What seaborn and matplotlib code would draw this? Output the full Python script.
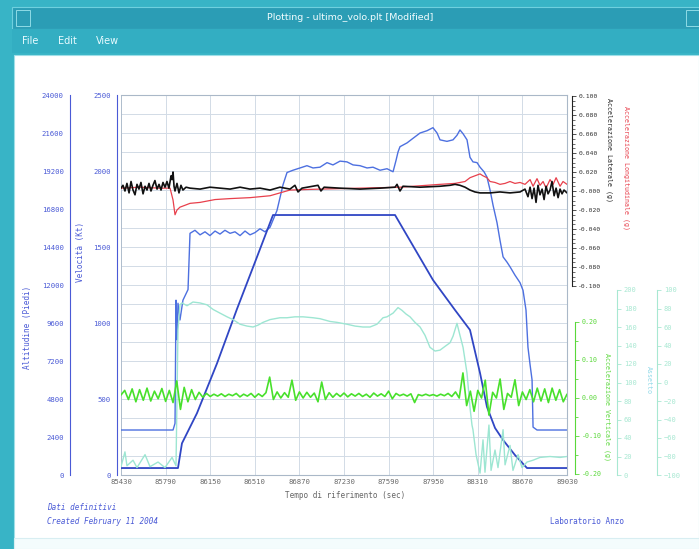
import matplotlib
matplotlib.use("Agg")
import matplotlib.pyplot as plt
from matplotlib.patches import Rectangle
from matplotlib.ticker import MultipleLocator, FormatStrFormatter
import seaborn as sns

# -------------------------------------------
# DATA
# -------------------------------------------
x_ticks = [85430, 85790, 86150, 86510, 86870, 87230, 87590, 87950, 88310, 88670, 89030]

# altitude (outer left axis, feet)
alt_t = [85430, 85890, 85922, 86043, 86205, 86366, 86512, 86657, 87642, 87948,
         88126, 88247, 88328, 88384, 88449, 88514, 88610, 88707, 89030]
alt_v = [440, 440, 2000, 3900, 7050, 10480, 13450, 16420, 16420, 12320,
         10420, 9160, 6440, 4300, 2970, 2210, 1260, 440, 440]

# speed (inner left axis)
vel_t = [85430, 85850, 85866, 85874, 85882, 85890, 85906, 85930, 85971, 85987,
         86027, 86068, 86108, 86148, 86189, 86229, 86269, 86310, 86350, 86391,
         86431, 86471, 86512, 86552, 86592, 86633, 86689, 86738, 86770, 86818,
         86875, 86931, 86980, 87036, 87093, 87141, 87198, 87254, 87303, 87359,
         87416, 87464, 87521, 87577, 87626, 87650, 87666, 87682, 87739, 87787,
         87844, 87900, 87948, 87981, 88005, 88061, 88110, 88142, 88166, 88191,
         88223, 88247, 88271, 88304, 88328, 88360, 88384, 88409, 88433, 88465,
         88489, 88514, 88546, 88570, 88610, 88651, 88675, 88699, 88715, 88732,
         88748, 88756, 88788, 89030]
vel_v = [296, 296, 340, 1150, 890, 1130, 1020, 1150, 1220, 1590,
         1610, 1580, 1600, 1575, 1605, 1585, 1610, 1590, 1600, 1575,
         1605, 1580, 1595, 1620, 1600, 1630, 1740, 1910, 1990, 2005,
         2020, 2035, 2020, 2025, 2055, 2040, 2065, 2060, 2040, 2035,
         2020, 2025, 2005, 2015, 1995, 2070, 2125, 2160, 2185, 2215,
         2250, 2265, 2285, 2250, 2205, 2195, 2205, 2235, 2270, 2245,
         2205, 2090, 2060, 2055, 2025, 1995, 1960, 1875, 1775, 1660,
         1545, 1435, 1400, 1370, 1315, 1265, 1215, 1085, 840, 725,
         625, 315, 296, 296]

# lateral acceleration (black, g)
lat_t = [85430, 85446, 85462, 85478, 85495, 85511, 85527, 85543, 85559, 85575,
         85591, 85608, 85624, 85640, 85656, 85672, 85688, 85704, 85721, 85737,
         85753, 85769, 85785, 85801, 85817, 85834, 85842, 85850, 85858, 85866,
         85882, 85898, 85914, 85930, 85955, 85987, 86068, 86148, 86229, 86310,
         86391, 86471, 86552, 86633, 86713, 86794, 86834, 86859, 86891, 87020,
         87044, 87069, 87198, 87359, 87521, 87642, 87658, 87682, 87706, 87844,
         88005, 88086, 88126, 88166, 88207, 88247, 88287, 88328, 88409, 88489,
         88570, 88651, 88691, 88715, 88732, 88748, 88764, 88780, 88796, 88812,
         88829, 88845, 88861, 88877, 88893, 88909, 88926, 88942, 88958, 88974,
         88990, 89006, 89030]
lat_v = [0.003, 0.006, 0.000, 0.008, -0.002, 0.010, 0.001, -0.004, 0.007, 0.002,
         0.009, -0.003, 0.005, 0.001, 0.008, 0.000, 0.006, 0.011, 0.002, 0.007,
         0.001, 0.009, 0.004, 0.010, 0.003, 0.016, 0.012, 0.020, 0.005, 0.000,
         0.008, -0.002, 0.006, 0.001, 0.004, 0.003, 0.002, 0.004, 0.003, 0.002,
         0.004, 0.002, 0.003, 0.001, 0.004, 0.002, 0.006, -0.001, 0.003, 0.006,
         0.000, 0.004, 0.003, 0.002, 0.003, 0.004, 0.007, 0.000, 0.005, 0.004,
         0.005, 0.006, 0.007, 0.006, 0.004, 0.001, -0.001, -0.002, -0.002, -0.001,
         -0.002, -0.001, 0.002, -0.006, 0.004, -0.008, 0.003, -0.012, 0.006, -0.004,
         0.002, -0.009, 0.005, -0.003, 0.001, 0.010, -0.005, 0.003, -0.007, 0.002,
         -0.003, 0.001, -0.002]

# longitudinal acceleration (red, g)
lon_t = [85430, 85583, 85745, 85826, 85850, 85866, 85882, 85906, 85947, 85987,
         86068, 86189, 86310, 86471, 86633, 86713, 86794, 87036, 87359, 87682,
         88005, 88126, 88207, 88247, 88287, 88328, 88352, 88384, 88409, 88449,
         88489, 88530, 88570, 88610, 88651, 88691, 88732, 88756, 88788, 88812,
         88837, 88861, 88893, 88918, 88942, 88974, 88998, 89030]
lon_v = [0.003, 0.004, 0.003, 0.003, -0.0095, -0.025, -0.020, -0.017, -0.015, -0.013,
         -0.012, -0.009, -0.008, -0.007, -0.005, -0.002, 0.001, 0.002, 0.003, 0.004,
         0.007, 0.008, 0.010, 0.014, 0.016, 0.018, 0.016, 0.014, 0.010, 0.009,
         0.007, 0.008, 0.010, 0.008, 0.009, 0.007, 0.012, 0.005, 0.013, 0.006,
         0.010, 0.003, 0.012, 0.007, 0.014, 0.005, 0.010, 0.007]

# vertical acceleration (green, g)
ver_t = [85430, 85460, 85490, 85520, 85550, 85580, 85610, 85640, 85670, 85700,
         85730, 85760, 85790, 85820, 85850, 85880, 85910, 85940, 85970, 86000,
         86030, 86060, 86090, 86120, 86150, 86180, 86210, 86240, 86270, 86300,
         86330, 86360, 86390, 86420, 86450, 86480, 86510, 86540, 86570, 86600,
         86630, 86660, 86690, 86720, 86750, 86780, 86810, 86840, 86870, 86900,
         86930, 86960, 86990, 87020, 87050, 87080, 87110, 87140, 87170, 87200,
         87230, 87260, 87290, 87320, 87350, 87380, 87410, 87440, 87470, 87500,
         87530, 87560, 87590, 87620, 87650, 87680, 87710, 87740, 87770, 87800,
         87830, 87860, 87890, 87920, 87950, 87980, 88010, 88040, 88070, 88100,
         88130, 88160, 88190, 88220, 88250, 88280, 88310, 88340, 88370, 88400,
         88430, 88460, 88490, 88520, 88550, 88580, 88610, 88640, 88670, 88700,
         88730, 88760, 88790, 88820, 88850, 88880, 88910, 88940, 88970, 89000,
         89030]
ver_v = [0.008, 0.020, -0.004, 0.024, -0.010, 0.022, -0.006, 0.026, -0.008, 0.018,
         -0.002, 0.025, -0.009, 0.020, -0.012, 0.045, -0.030, 0.028, -0.010, 0.022,
         -0.004, 0.015, 0.002, 0.012, 0.004, 0.010, 0.005, 0.011, 0.004, 0.010,
         0.006, 0.012, 0.003, 0.010, 0.005, 0.012, 0.002, 0.011, 0.004, 0.014,
         0.055, -0.004, 0.016, 0.000, 0.014, 0.002, 0.047, -0.006, 0.016, 0.000,
         0.015, 0.002, 0.013, -0.010, 0.042, -0.004, 0.014, 0.002, 0.012, 0.004,
         0.013, 0.003, 0.011, 0.005, 0.012, 0.004, 0.010, 0.002, 0.013, 0.005,
         0.011, 0.004, 0.018, -0.002, 0.012, 0.006, 0.010, 0.005, 0.011, -0.012,
         0.009, 0.006, 0.010, 0.006, 0.009, 0.005, 0.010, 0.006, 0.012, 0.004,
         0.016, 0.000, 0.066, -0.020, 0.018, -0.035, 0.020, 0.000, 0.047, -0.045,
         0.015, 0.000, 0.050, -0.030, 0.012, 0.002, 0.048, -0.020, 0.016, -0.004,
         0.022, -0.010, 0.026, -0.008, 0.024, -0.012, 0.026, -0.006, 0.022, -0.010,
         0.010]

# attitude (pale cyan)
att_t = [85430, 85462, 85478, 85527, 85559, 85624, 85664, 85729, 85785, 85842,
         85874, 85890, 85906, 85922, 85963, 86011, 86068, 86124, 86173, 86229,
         86286, 86334, 86391, 86447, 86496, 86536, 86576, 86633, 86713, 86770,
         86834, 86899, 86980, 87036, 87117, 87174, 87254, 87319, 87383, 87440,
         87496, 87545, 87577, 87626, 87666, 87698, 87731, 87763, 87803, 87844,
         87884, 87924, 87965, 88005, 88045, 88086, 88110, 88142, 88166, 88191,
         88207, 88223, 88239, 88247, 88263, 88271, 88296, 88328, 88352, 88368,
         88400, 88417, 88449, 88473, 88514, 88530, 88570, 88594, 88635, 88667,
         88707, 88756, 88812, 88893, 88974, 89030]
att_v = [9, 25, 10, 16, 8, 22, 9, 14, 8, 19,
         10, 157, 184, 186, 183, 187, 186, 184, 179, 175,
         171, 168, 163, 161, 160, 162, 165, 168, 170, 170,
         171, 171, 170, 169, 166, 165, 163, 161, 160, 160,
         163, 170, 171, 175, 181, 178, 174, 171, 165, 160,
         151, 138, 134, 135, 139, 143, 150, 164, 151, 138,
         124, 110, 86, 73, 54, 49, 22, 2, 38, 3,
         54, 5, 27, 8, 49, 11, 32, 5, 22, 8,
         14, 16, 19, 20, 19, 20]

# -------------------------------------------
# STYLE
# -------------------------------------------
sns.set_style("white")
plt.rcParams["font.family"] = ["DejaVu Sans Mono", "DejaVu Sans"]
plt.rcParams["font.size"] = 5.5

W, H = 699, 549
TEAL = "#38b4c6"
BLUE = "#4a5ad6"
GRID = "#d2dbe6"
PALE = "#a8e8d2"


def box(x0, y0, x1, y1):
    return [x0 / W, 1 - y1 / H, (x1 - x0) / W, (y1 - y0) / H]


def rect(x0, y0, x1, y1, **kw):
    fig.add_artist(Rectangle((x0 / W, 1 - y1 / H), (x1 - x0) / W, (y1 - y0) / H,
                             transform=fig.transFigure, zorder=-5, **kw))


def ftext(x, y, s, **kw):
    fig.text(x / W, 1 - y / H, s, **kw)


def pt(px):
    return px * 72 / 100


fig = plt.figure(figsize=(W / 100, H / 100), dpi=100)
fig.patch.set_facecolor(TEAL)

# window chrome
rect(12, 7, 699, 29, fc="#2b9db5", ec="#6fd0de", lw=0.8)
rect(12, 29, 699, 53, fc="#33aec2", ec="none")
rect(14, 55, 699, 549, fc="white", ec="#9fdfe8", lw=0.8)
rect(14, 538, 699, 549, fc="#f4fcfd", ec="#d8eef2", lw=0.8)
rect(16, 10, 30, 26, fc="none", ec="#8fdbe6", lw=0.7)
rect(686, 10, 699, 26, fc="none", ec="#8fdbe6", lw=0.7)
ftext(350, 18, "Plotting - ultimo_volo.plt [Modified]", color="#f2fdff",
      family="DejaVu Sans", size=6.8, ha="center", va="center")
for label, xm in [("File", 22), ("Edit", 58), ("View", 96)]:
    ftext(xm, 41, label, color="#e8fbff", family="DejaVu Sans", size=7, va="center")

# -------------------------------------------
# MAIN AXES (speed, inner left axis)
# -------------------------------------------
ax = fig.add_axes(box(121, 95, 567, 475))
ax.set_facecolor("white")
ax.set_xlim(x_ticks[0], x_ticks[-1])
ax.set_ylim(0, 2500)
ax.set_xticks(x_ticks)
ax.set_xticklabels([str(t) for t in x_ticks])
ax.yaxis.set_major_locator(MultipleLocator(500))
ax.yaxis.set_minor_locator(MultipleLocator(125))
ax.xaxis.grid(True, which="major", color=GRID, lw=0.7)
ax.yaxis.grid(True, which="both", color=GRID, lw=0.7)
ax.tick_params(axis="x", length=0, pad=3, colors="#6a6a6a", labelsize=5.2)
ax.tick_params(axis="y", which="major", length=3, width=0.6, colors=BLUE, pad=1.5, labelsize=5.2)
ax.tick_params(axis="y", which="minor", length=1.8, width=0.6, colors=BLUE)
for s in ["top", "right", "bottom"]:
    ax.spines[s].set_color("#aab8c8")
    ax.spines[s].set_linewidth(0.8)
ax.spines["left"].set_position(("outward", pt(4)))
ax.spines["left"].set_color(BLUE)
ax.spines["left"].set_linewidth(0.8)
ax.axvline(x_ticks[0], color="#aab8c8", lw=1.2)
sns.lineplot(x=vel_t, y=vel_v, ax=ax, color="#4d70e0", lw=1.0, sort=False, estimator=None)
ax.set_xlabel("")
ax.set_ylabel("")

# outer left axis: altitude
ax_alt = fig.add_axes(box(121, 95, 567, 475), sharex=ax)
ax_alt.patch.set_visible(False)
ax_alt.set_ylim(0, 24000)
ax_alt.yaxis.set_major_locator(MultipleLocator(2400))
ax_alt.yaxis.set_minor_locator(MultipleLocator(1200))
for s in ["top", "right", "bottom"]:
    ax_alt.spines[s].set_visible(False)
ax_alt.spines["left"].set_position(("outward", pt(51)))
ax_alt.spines["left"].set_color(BLUE)
ax_alt.spines["left"].set_linewidth(0.8)
ax_alt.tick_params(axis="y", which="major", length=3, width=0.6, colors=BLUE, pad=1.5, labelsize=5.2)
ax_alt.tick_params(axis="y", which="minor", length=1.8, width=0.6, colors=BLUE)
ax_alt.tick_params(axis="x", bottom=False, labelbottom=False)
sns.lineplot(x=alt_t, y=alt_v, ax=ax_alt, color="#3046c4", lw=1.3, sort=False, estimator=None)
ax_alt.set_xlabel("")
ax_alt.set_ylabel("")

# pale attitude axes (two faint scales on the far right)
ax_att = fig.add_axes(box(121, 290, 567, 475), sharex=ax)
ax_att.patch.set_visible(False)
ax_att.set_ylim(0, 200)
ax_att.yaxis.set_major_locator(MultipleLocator(20))
ax_att.yaxis.tick_right()
for s in ["top", "left", "bottom"]:
    ax_att.spines[s].set_visible(False)
ax_att.spines["right"].set_position(("outward", pt(50)))
ax_att.spines["right"].set_color(PALE)
ax_att.tick_params(axis="y", length=3, width=0.6, colors=PALE, pad=2, labelsize=5)
ax_att.tick_params(axis="x", bottom=False, labelbottom=False)
sns.lineplot(x=att_t, y=att_v, ax=ax_att, color="#9de6d2", lw=1.0, sort=False, estimator=None)
ax_att.set_xlabel("")
ax_att.set_ylabel("")

ax_att2 = fig.add_axes(box(121, 290, 567, 475), sharex=ax)
ax_att2.patch.set_visible(False)
ax_att2.set_ylim(-100, 100)
ax_att2.yaxis.set_major_locator(MultipleLocator(20))
ax_att2.yaxis.tick_right()
for s in ["top", "left", "bottom"]:
    ax_att2.spines[s].set_visible(False)
ax_att2.spines["right"].set_position(("outward", pt(90)))
ax_att2.spines["right"].set_color(PALE)
ax_att2.tick_params(axis="y", length=3, width=0.6, colors=PALE, pad=2, labelsize=5)
ax_att2.tick_params(axis="x", bottom=False, labelbottom=False)

# vertical acceleration (green)
ax_ver = fig.add_axes(box(121, 322, 567, 474), sharex=ax)
ax_ver.patch.set_visible(False)
ax_ver.set_ylim(-0.2, 0.2)
ax_ver.yaxis.set_major_locator(MultipleLocator(0.1))
ax_ver.yaxis.set_minor_locator(MultipleLocator(0.05))
ax_ver.yaxis.set_major_formatter(FormatStrFormatter("%.2f"))
ax_ver.yaxis.tick_right()
for s in ["top", "left", "bottom"]:
    ax_ver.spines[s].set_visible(False)
ax_ver.spines["right"].set_position(("outward", pt(8)))
ax_ver.spines["right"].set_color("#5ad83a")
ax_ver.tick_params(axis="y", which="major", length=3, width=0.6, colors="#5ad83a", pad=2, labelsize=4.8)
ax_ver.tick_params(axis="y", which="minor", length=1.8, width=0.6, colors="#5ad83a")
ax_ver.tick_params(axis="x", bottom=False, labelbottom=False)
sns.lineplot(x=ver_t, y=ver_v, ax=ax_ver, color="#48e02c", lw=1.2, sort=False, estimator=None)
ax_ver.set_xlabel("")
ax_ver.set_ylabel("")

# lateral / longitudinal acceleration (black / red)
ax_lat = fig.add_axes(box(121, 96, 567, 286), sharex=ax)
ax_lat.patch.set_visible(False)
ax_lat.set_ylim(-0.1, 0.1)
ax_lat.yaxis.set_major_locator(MultipleLocator(0.02))
ax_lat.yaxis.set_minor_locator(MultipleLocator(0.005))
ax_lat.yaxis.set_major_formatter(FormatStrFormatter("%.3f"))
ax_lat.yaxis.tick_right()
for s in ["top", "left", "bottom"]:
    ax_lat.spines[s].set_visible(False)
ax_lat.spines["right"].set_position(("outward", pt(5)))
ax_lat.spines["right"].set_color("#222222")
ax_lat.tick_params(axis="y", which="major", length=3, width=0.6, colors="#333333", pad=1.5, labelsize=4.6)
ax_lat.tick_params(axis="y", which="minor", length=1.8, width=0.5, colors="#333333")
ax_lat.tick_params(axis="x", bottom=False, labelbottom=False)
sns.lineplot(x=lon_t, y=lon_v, ax=ax_lat, color="#e8404c", lw=0.9, sort=False, estimator=None)
sns.lineplot(x=lat_t, y=lat_v, ax=ax_lat, color="#111111", lw=1.2, sort=False, estimator=None)
ax_lat.set_xlabel("")
ax_lat.set_ylabel("")
ax_lat.set_xlim(x_ticks[0], x_ticks[-1])

# -------------------------------------------
# AXIS TITLES AND NOTES
# -------------------------------------------
ftext(28, 327, "Altitudine (Piedi)", color=BLUE, rotation=90, ha="center", va="center", size=5.5)
ftext(80, 252, "Velocità (Kt)", color=BLUE, rotation=90, ha="center", va="center", size=5.5)
ftext(609, 150, "Accelerazione Laterale (g)", color="#222222", rotation=-90,
      ha="center", va="center", size=4.8)
ftext(626, 168, "Accelerazione Longitudinale (g)", color="#e8404c", rotation=-90,
      ha="center", va="center", size=4.8)
ftext(607, 407, "Accelerazione Verticale (g)", color="#5ad83a", rotation=-90,
      ha="center", va="center", size=4.8)
ftext(649, 380, "Assetto", color="#8fd8e8", rotation=-90, ha="center", va="center", size=4.8)
ftext(345, 495, "Tempo di riferimento (sec)", color="#666666", ha="center", va="center", size=5.5)
ftext(47, 508, "Dati definitivi", color=BLUE, style="italic", va="center", size=5.5)
ftext(47, 521, "Created February 11 2004", color=BLUE, style="italic", va="center", size=5.5)
ftext(550, 521, "Laboratorio Anzo", color=BLUE, va="center", size=5.5)

plt.savefig("out.png", dpi=100, facecolor=fig.get_facecolor())
